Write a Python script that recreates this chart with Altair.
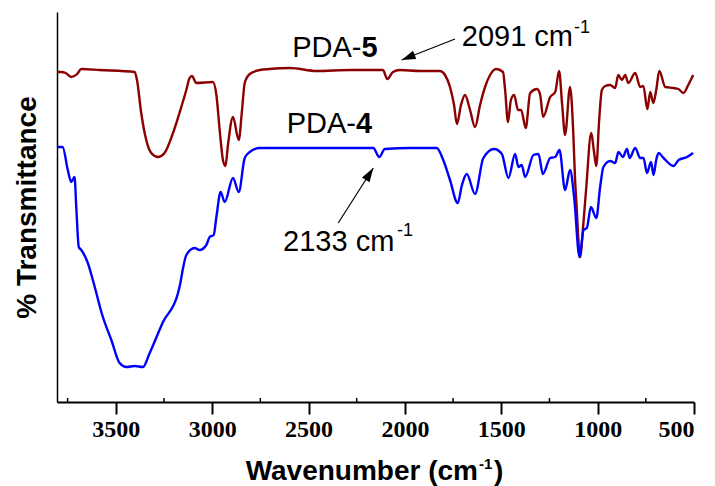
import math
import altair as alt
import pandas as pd

# ---- data ----
red_wn = [3805, 3782, 3760, 3731, 3700, 3679, 3584, 3402, 3390, 3368, 3342, 3316, 3281, 3247,
          3203, 3160, 3134, 3117, 3105, 3082, 2996, 2978, 2961, 2944, 2931, 2918, 2892, 2862,
          2845, 2831, 2805, 2753, 2701, 2597, 2457, 2285, 2150, 2114, 2091, 2062, 2026, 1922,
          1818, 1792, 1766, 1745, 1730, 1709, 1688, 1662, 1636, 1610, 1584, 1558, 1527, 1491,
          1480, 1465, 1450, 1433, 1413, 1397, 1373, 1350, 1314, 1298, 1283, 1246, 1220, 1200,
          1184, 1169, 1143, 1127, 1117, 1111, 1091, 1075, 1060, 1033, 1020, 1007, 992, 978,
          961, 935, 909, 893, 874, 857, 841, 805, 779, 763, 742, 727, 711, 696, 680, 649, 607,
          581, 555, 530, 504]
red_t = [330, 330, 329, 325, 328, 333, 332, 330, 322, 289, 262, 249, 245, 249,
         269, 295, 312, 324, 326, 319, 320, 307, 272, 242, 236, 257, 285, 262,
         292, 319, 328, 332, 333, 334, 331, 332, 332, 332, 323, 330, 332, 331,
         331, 327, 315, 297, 278, 297, 307, 292, 275, 297, 315, 327, 333, 330,
         312, 280, 302, 307, 292, 292, 274, 309, 313, 307, 285, 305, 310, 331,
         297, 267, 315, 272, 222, 202, 145, 176, 212, 269, 252, 236, 282, 312,
         316, 317, 314, 327, 322, 327, 319, 329, 315, 316, 293, 310, 299, 312, 331, 315, 314,
         313, 309, 317, 327]

blue_wn = [3805, 3776, 3749, 3731, 3714, 3705, 3692, 3679, 3645, 3619, 3567, 3523, 3480, 3445,
           3402, 3359, 3324, 3255, 3177, 3165, 3151, 3134, 3091, 3065, 3030, 3013, 2992, 2978,
           2956, 2935, 2892, 2862, 2831, 2805, 2753, 2597, 2389, 2164, 2133, 2104, 1974, 1835,
           1801, 1766, 1726, 1704, 1679, 1636, 1593, 1537, 1497, 1463, 1428, 1411, 1394, 1376,
           1333, 1307, 1284, 1246, 1220, 1198, 1169, 1143, 1122, 1094, 1073, 1056, 1035, 1007,
           987, 970, 935, 909, 892, 869, 848, 834, 805, 779, 762, 744, 723, 710, 696, 684, 658,
           606, 580, 536, 505]
blue_t = [255, 255, 232, 220, 225, 195, 155, 152, 139, 122, 85, 62, 39, 35,
          36, 35, 49, 80, 109, 119, 134, 147, 154, 152, 157, 165, 167, 185,
          210, 200, 224, 210, 244, 250, 254, 254, 254, 254, 245, 253, 254, 254,
          242, 222, 199, 217, 228, 208, 244, 253, 248, 224, 248, 235, 237, 225,
          247, 248, 228, 244, 245, 252, 212, 232, 205, 145, 172, 174, 195, 184,
          215, 235, 241, 239, 250, 245, 253, 244, 254, 244, 244, 229, 240, 227, 242, 249, 244,
          236, 242, 245, 249]

series_names = ["PDA-5", "PDA-4"]
series_colors = ["#8B0000", "#0000FF"]

x_ticks = [3500, 3000, 2500, 2000, 1500, 1000, 500]
minor_ticks = [3750, 3250, 2750, 2250, 1750, 1250, 750]

x_title_main = "Wavenumber (cm"
x_title_sup = "-1"
x_title_end = ")"
y_title = "% Transmittance"

# annotation anchors in data coordinates
label_prefix_wn = [2225, 2254]
label_prefix_t = [354, 278]
label_prefix = ["PDA-", "PDA-"]
label_bold = ["5", "4"]

peak_text = ["2091 cm", "2133 cm"]
peak_text_wn = [1705, 2632]
peak_text_t = [365, 160]
sup_wn = [1122, 2041]
sup_t = [374, 171]

arrow_tail_wn = [1740, 2346]
arrow_tail_t = [363, 179]
arrow_tip_wn = [2017, 2164]
arrow_tip_t = [342, 234]

# ---- layout ----
W, H = 637, 390
XD = [3805, 500]
YD = [0, 390]
FONT = "Liberation Sans"

xs = alt.Scale(domain=XD, nice=False, zero=False)
ys = alt.Scale(domain=YD, nice=False, zero=False)

spec = pd.concat([
    pd.DataFrame({"wn": red_wn, "t": red_t, "s": series_names[0]}),
    pd.DataFrame({"wn": blue_wn, "t": blue_t, "s": series_names[1]}),
])

lines = alt.Chart(spec).mark_line(strokeWidth=2.4, interpolate="monotone").encode(
    x=alt.X("wn:Q", scale=xs, title="",
            axis=alt.Axis(values=x_ticks, format="d", grid=False,
                          labelFont="Liberation Sans Narrow", labelFontWeight="bold",
                          labelFontSize=24, labelColor="black", labelPadding=3,
                          tickSize=12, tickWidth=2, tickColor="black",
                          domainColor="black", domainWidth=2)),
    y=alt.Y("t:Q", scale=ys, title=y_title,
            axis=alt.Axis(labels=False, ticks=False, grid=False,
                          domainColor="black", domainWidth=1.5,
                          titleFont=FONT, titleFontWeight="bold",
                          titleFontSize=28, titleColor="black", titlePadding=16)),
    color=alt.Color("s:N", scale=alt.Scale(domain=series_names, range=series_colors), legend=None),
    detail="s:N",
    order=alt.Order("wn:Q"),
)

minor = alt.Chart(pd.DataFrame({"wn": minor_ticks})).mark_rule(color="black", strokeWidth=1.5).encode(
    x=alt.X("wn:Q", scale=xs),
    y=alt.value(H - 4),
    y2=alt.value(H),
)

# x-axis title with a real superscript
xt_main = alt.Chart(pd.DataFrame({"a": [x_title_main]})).mark_text(
    align="right", baseline="alphabetic", font=FONT, fontWeight="bold", fontSize=28,
    color="black").encode(text="a:N", x=alt.value(421), y=alt.value(H + 78))
xt_sup = alt.Chart(pd.DataFrame({"a": [x_title_sup]})).mark_text(
    align="left", baseline="alphabetic", font=FONT, fontWeight="bold", fontSize=15,
    color="black").encode(text="a:N", x=alt.value(422), y=alt.value(H + 67))
xt_end = alt.Chart(pd.DataFrame({"a": [x_title_end]})).mark_text(
    align="left", baseline="alphabetic", font=FONT, fontWeight="bold", fontSize=28,
    color="black").encode(text="a:N", x=alt.value(437), y=alt.value(H + 78))

lab = pd.DataFrame({"wn": label_prefix_wn, "t": label_prefix_t, "a": label_prefix, "b": label_bold})
prefix = alt.Chart(lab).mark_text(align="right", baseline="middle", font=FONT,
                                   fontSize=29, color="black").encode(
    x=alt.X("wn:Q", scale=xs), y=alt.Y("t:Q", scale=ys), text="a:N")
bold = alt.Chart(lab).mark_text(align="left", baseline="middle", font=FONT,
                                 fontSize=29, fontWeight="bold", color="black").encode(
    x=alt.X("wn:Q", scale=xs), y=alt.Y("t:Q", scale=ys), text="b:N")

pk = pd.DataFrame({"wn": peak_text_wn, "t": peak_text_t, "txt": peak_text})
peak = alt.Chart(pk).mark_text(align="left", baseline="middle", font=FONT,
                                fontSize=29, color="black").encode(
    x=alt.X("wn:Q", scale=xs), y=alt.Y("t:Q", scale=ys), text="txt:N")
sp = pd.DataFrame({"wn": sup_wn, "t": sup_t})
sup = alt.Chart(sp).mark_text(align="left", baseline="middle", font=FONT,
                               fontSize=18, color="black", text="-1").encode(
    x=alt.X("wn:Q", scale=xs), y=alt.Y("t:Q", scale=ys))


def px(wn):
    return (wn - XD[0]) / (XD[1] - XD[0]) * W


def py(t):
    return H - (t - YD[0]) / (YD[1] - YD[0]) * H


angles = []
for a, b, c, d in zip(arrow_tail_wn, arrow_tail_t, arrow_tip_wn, arrow_tip_t):
    dx = px(c) - px(a)
    dy = py(d) - py(b)
    angles.append(math.degrees(math.atan2(dx, -dy)) % 360)

ar = pd.DataFrame({"wn": arrow_tail_wn, "t": arrow_tail_t, "wn2": arrow_tip_wn,
                   "t2": arrow_tip_t, "ang": angles})
shafts = alt.Chart(ar).mark_rule(color="black", strokeWidth=1.2).encode(
    x=alt.X("wn:Q", scale=xs), y=alt.Y("t:Q", scale=ys),
    x2="wn2:Q", y2="t2:Q")
hd = pd.DataFrame({"wn": arrow_tip_wn, "t": arrow_tip_t, "ang": angles})
heads = alt.Chart(hd).mark_point(shape="M0,0 L0.32,1 L-0.32,1 Z", filled=True, color="black",
                                 opacity=1, size=784, strokeWidth=0).encode(
    x=alt.X("wn:Q", scale=xs), y=alt.Y("t:Q", scale=ys),
    angle=alt.Angle("ang:Q", scale=None))

chart = alt.layer(lines, minor, shafts, heads, prefix, bold, peak, sup,
                  xt_main, xt_sup, xt_end).properties(
    width=W, height=H,
    autosize=alt.AutoSizeParams(type="none"),
    padding={"left": 57, "top": 12, "right": 21, "bottom": 84},
    background="white",
).configure_view(stroke=None)

chart.save("out.html", embed_options={"renderer": "svg", "actions": False})
